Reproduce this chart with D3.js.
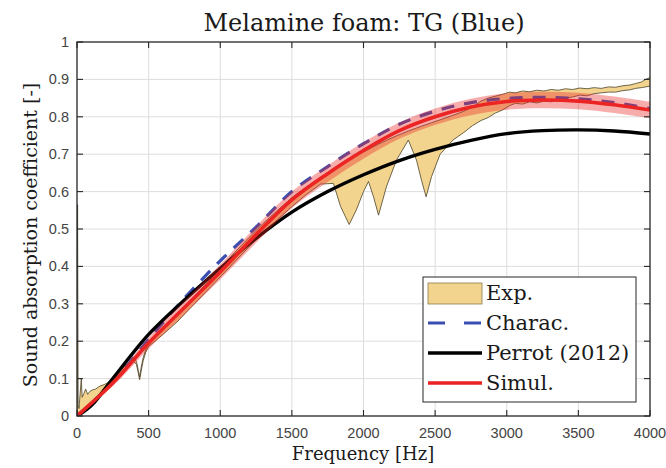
<!DOCTYPE html>
<html>
<head>
<meta charset="utf-8">
<script src="https://cdn.jsdelivr.net/npm/d3@7/dist/d3.min.js"></script>
<style>
  html, body { margin: 0; padding: 0; background: #fff; }
  svg { display: block; }
</style>
</head>
<body>
<svg id="chart" width="666" height="468"></svg>
<script>
// ---- data ----
var xTicks = [0, 500, 1000, 1500, 2000, 2500, 3000, 3500, 4000]
var yTicks = [0, 0.1, 0.2, 0.3, 0.4, 0.5, 0.6, 0.7, 0.8, 0.9, 1]

// simulation (red) with its spread band, every 250 Hz
var simFreq = [0, 250, 500, 750, 1000, 1250, 1500, 1750, 2000, 2250, 2500, 2750, 3000, 3250, 3500, 3750, 4000]
var simAlpha = [0, 0.088, 0.195, 0.29, 0.385, 0.485, 0.578, 0.648, 0.71, 0.763, 0.8, 0.826, 0.841, 0.845, 0.842, 0.832, 0.818]
var simLow = [0, 0.08, 0.18, 0.272, 0.365, 0.463, 0.556, 0.626, 0.688, 0.741, 0.778, 0.804, 0.819, 0.823, 0.82, 0.81, 0.796]
var simHigh = [0, 0.096, 0.21, 0.308, 0.405, 0.507, 0.6, 0.67, 0.732, 0.785, 0.822, 0.848, 0.863, 0.867, 0.864, 0.854, 0.84]

// characterised model (blue dashed)
var characFreq = [0, 250, 500, 750, 1000, 1250, 1500, 1750, 2000, 2250, 2500, 2750, 3000, 3250, 3500, 3750, 4000]
var characAlpha = [0, 0.09, 0.205, 0.315, 0.415, 0.505, 0.6, 0.667, 0.728, 0.78, 0.815, 0.838, 0.849, 0.852, 0.848, 0.838, 0.822]

// Perrot (2012) (black)
var perrotFreq = [0, 100, 250, 500, 750, 1000, 1250, 1500, 1750, 2000, 2250, 2500, 2750, 3000, 3250, 3500, 3750, 4000]
var perrotAlpha = [0, 0.028, 0.1, 0.218, 0.31, 0.395, 0.475, 0.545, 0.6, 0.645, 0.683, 0.713, 0.737, 0.755, 0.763, 0.765, 0.762, 0.754]

// measurement envelope (yellow)
var expFreq = [0, 4, 8, 14, 22, 30, 36, 48, 60, 75, 90, 110, 130, 160, 190, 220, 250, 280, 320, 360, 395, 415, 428, 437, 448, 462, 480, 500,
  550, 600, 700, 800, 900, 1000, 1100, 1200, 1300, 1400, 1500, 1600, 1700, 1790, 1840, 1900, 1950, 2000, 2035, 2070, 2105, 2160, 2230,
  2313, 2370, 2405, 2437, 2475, 2535, 2625, 2700, 2760, 2820, 2870, 2920, 2970, 3020, 3060, 3110, 3160, 3210, 3260, 3310, 3360, 3410,
  3460, 3510, 3560, 3610, 3660, 3710, 3760, 3810, 3860, 3900, 3940, 3970, 4000]
var expLow = [0, 0, 0.002, 0.004, 0.006, 0.01, 0.014, 0.02, 0.025, 0.03, 0.035, 0.042, 0.05, 0.058, 0.066, 0.075, 0.085, 0.1, 0.118, 0.132, 0.146, 0.138, 0.115, 0.097, 0.12, 0.148, 0.17, 0.186,
  0.202, 0.218, 0.252, 0.292, 0.332, 0.372, 0.412, 0.452, 0.49, 0.525, 0.56, 0.592, 0.62, 0.622, 0.56, 0.512, 0.551, 0.6, 0.627, 0.586, 0.537, 0.613, 0.684,
  0.738, 0.684, 0.63, 0.586, 0.64, 0.7, 0.738, 0.758, 0.776, 0.79, 0.798, 0.81, 0.818, 0.83, 0.836, 0.834, 0.84, 0.837, 0.842, 0.84, 0.846, 0.85,
  0.853, 0.858, 0.856, 0.862, 0.864, 0.866, 0.866, 0.87, 0.872, 0.876, 0.878, 0.88, 0.882]
var expHigh = [0, 0.565, 0.03, 0.02, 0.06, 0.1, 0.05, 0.06, 0.072, 0.058, 0.066, 0.07, 0.072, 0.08, 0.084, 0.09, 0.1, 0.113, 0.13, 0.143, 0.156, 0.146, 0.122, 0.104, 0.13, 0.156, 0.178, 0.196,
  0.214, 0.232, 0.27, 0.312, 0.352, 0.396, 0.437, 0.477, 0.515, 0.55, 0.584, 0.612, 0.638, 0.662, 0.675, 0.688, 0.697, 0.706, 0.713, 0.72, 0.727, 0.737, 0.749,
  0.762, 0.77, 0.775, 0.779, 0.784, 0.792, 0.804, 0.815, 0.826, 0.842, 0.85, 0.855, 0.86, 0.866, 0.864, 0.869, 0.867, 0.871, 0.869, 0.873, 0.871, 0.875,
  0.873, 0.877, 0.875, 0.878, 0.876, 0.88, 0.879, 0.883, 0.885, 0.889, 0.893, 0.9, 0.905]

var legendNames = ['Exp.', 'Charac.', 'Perrot (2012)', 'Simul.']

;(function (d3) {
  var svg = d3.select('#chart')
  var pl = 77, pr = 650, pt = 42, pb = 416
  var serif = '"DejaVu Serif", "Liberation Serif", serif'
  var sans = '"Liberation Sans", Arial, sans-serif'

  var x = d3.scaleLinear().domain([0, 4000]).range([pl, pr])
  var y = d3.scaleLinear().domain([0, 1]).range([pb, pt])

  svg.append('defs').append('clipPath').attr('id', 'plotclip')
    .append('rect').attr('x', pl).attr('y', pt).attr('width', pr - pl).attr('height', pb - pt)

  // grid
  svg.append('g').selectAll('line').data(xTicks.slice(1, -1)).enter().append('line')
    .attr('x1', function (d) { return x(d) }).attr('x2', function (d) { return x(d) })
    .attr('y1', pt).attr('y2', pb)
    .attr('stroke', '#dedede').attr('stroke-width', 1)
  svg.append('g').selectAll('line').data(yTicks.slice(1, -1)).enter().append('line')
    .attr('y1', function (d) { return y(d) }).attr('y2', function (d) { return y(d) })
    .attr('x1', pl).attr('x2', pr)
    .attr('stroke', '#dedede').attr('stroke-width', 1)

  var plot = svg.append('g').attr('clip-path', 'url(#plotclip)')

  function zip (fs, vs) {
    return fs.map(function (f, i) { return [f, vs[i]] })
  }

  // measurement envelope
  var expRows = expFreq.map(function (f, i) { return {f: f, lo: expLow[i], hi: expHigh[i]} })
  plot.append('path').datum(expRows)
    .attr('d', d3.area().x(function (d) { return x(d.f) }).y0(function (d) { return y(d.lo) }).y1(function (d) { return y(d.hi) }))
    .attr('fill', '#f3d48e')
  var thin = d3.line().x(function (d) { return x(d[0]) }).y(function (d) { return y(d[1]) })
  plot.append('path').datum(zip(expFreq, expLow)).attr('d', thin)
    .attr('fill', 'none').attr('stroke', '#4a4228').attr('stroke-width', 0.8)
  plot.append('path').datum(zip(expFreq, expHigh)).attr('d', thin)
    .attr('fill', 'none').attr('stroke', '#4a4228').attr('stroke-width', 0.8)

  var smooth = d3.line().curve(d3.curveCatmullRom.alpha(0.5))
    .x(function (d) { return x(d[0]) }).y(function (d) { return y(d[1]) })

  // characterised model
  plot.append('path').datum(zip(characFreq, characAlpha)).attr('d', smooth)
    .attr('fill', 'none').attr('stroke', '#3b4fb0').attr('stroke-width', 3.2)
    .attr('stroke-dasharray', '13,10')

  // Perrot
  plot.append('path').datum(zip(perrotFreq, perrotAlpha)).attr('d', smooth)
    .attr('fill', 'none').attr('stroke', '#000').attr('stroke-width', 3.4)

  // simulation
  plot.append('path').datum(zip(simFreq, simAlpha)).attr('d', smooth)
    .attr('fill', 'none').attr('stroke', '#ea2222').attr('stroke-width', 3.6)

  var simRows = simFreq.map(function (f, i) { return {f: f, lo: simLow[i], hi: simHigh[i]} })
  plot.append('path').datum(simRows)
    .attr('d', d3.area().curve(d3.curveCatmullRom.alpha(0.5))
      .x(function (d) { return x(d.f) }).y0(function (d) { return y(d.lo) }).y1(function (d) { return y(d.hi) }))
    .attr('fill', 'rgba(236, 40, 40, 0.38)')

  // axes box with inward ticks on all sides
  var axisColor = '#262626'
  svg.append('rect').attr('x', pl).attr('y', pt).attr('width', pr - pl).attr('height', pb - pt)
    .attr('fill', 'none').attr('stroke', axisColor).attr('stroke-width', 1.3)

  var tk = 6
  var ticks = svg.append('g').attr('stroke', axisColor).attr('stroke-width', 1.1)
  xTicks.forEach(function (d) {
    ticks.append('line').attr('x1', x(d)).attr('x2', x(d)).attr('y1', pb).attr('y2', pb - tk)
    ticks.append('line').attr('x1', x(d)).attr('x2', x(d)).attr('y1', pt).attr('y2', pt + tk)
  })
  yTicks.forEach(function (d) {
    ticks.append('line').attr('y1', y(d)).attr('y2', y(d)).attr('x1', pl).attr('x2', pl + tk)
    ticks.append('line').attr('y1', y(d)).attr('y2', y(d)).attr('x1', pr).attr('x2', pr - tk)
  })

  // tick labels
  svg.append('g').selectAll('text').data(xTicks).enter().append('text')
    .attr('x', function (d) { return x(d) }).attr('y', 438)
    .attr('text-anchor', 'middle')
    .attr('font-family', sans).attr('font-size', 14.5).attr('fill', '#444')
    .text(function (d) { return d })
  svg.append('g').selectAll('text').data(yTicks).enter().append('text')
    .attr('x', 69).attr('y', function (d) { return y(d) + 5 })
    .attr('text-anchor', 'end')
    .attr('font-family', sans).attr('font-size', 14.5).attr('fill', '#444')
    .text(function (d) { return d3.format('~g')(d) })

  // title and axis labels
  svg.append('text').attr('x', 364).attr('y', 31).attr('text-anchor', 'middle')
    .attr('font-family', serif).attr('font-size', 24).attr('fill', '#1a1a1a')
    .text('Melamine foam: TG (Blue)')
  svg.append('text').attr('x', 363).attr('y', 460).attr('text-anchor', 'middle')
    .attr('font-family', serif).attr('font-size', 18).attr('fill', '#1a1a1a')
    .text('Frequency [Hz]')
  svg.append('text').attr('transform', 'translate(37,' + ((pt + pb) / 2 + 6) + ') rotate(-90)')
    .attr('text-anchor', 'middle')
    .attr('font-family', serif).attr('font-size', 19).attr('fill', '#1a1a1a')
    .text('Sound absorption coefficient [-]')

  // legend
  var lg = svg.append('g').attr('transform', 'translate(423,277)')
  lg.append('rect').attr('width', 213).attr('height', 125)
    .attr('fill', '#fff').attr('stroke', axisColor).attr('stroke-width', 1)
  var rowY = function (i) { return 16 + i * 30 }
  lg.append('rect').attr('x', 5).attr('y', rowY(0) - 10).attr('width', 54).attr('height', 21)
    .attr('fill', '#f3d48e').attr('stroke', '#8a7a50').attr('stroke-width', 0.8)
  lg.append('line').attr('x1', 5).attr('x2', 59).attr('y1', rowY(1)).attr('y2', rowY(1))
    .attr('stroke', '#3b4fb0').attr('stroke-width', 3.2).attr('stroke-dasharray', '17,19')
  lg.append('line').attr('x1', 5).attr('x2', 59).attr('y1', rowY(2)).attr('y2', rowY(2))
    .attr('stroke', '#000').attr('stroke-width', 3.4)
  lg.append('line').attr('x1', 5).attr('x2', 59).attr('y1', rowY(3)).attr('y2', rowY(3))
    .attr('stroke', '#ea2222').attr('stroke-width', 3.6)
  lg.selectAll('text.name').data(legendNames).enter().append('text')
    .attr('class', 'name')
    .attr('x', 63).attr('y', function (d, i) { return rowY(i) + 7 })
    .attr('font-family', serif).attr('font-size', 21).attr('fill', '#1a1a1a')
    .text(function (d) { return d })
})(window.d3)
</script>
</body>
</html>
